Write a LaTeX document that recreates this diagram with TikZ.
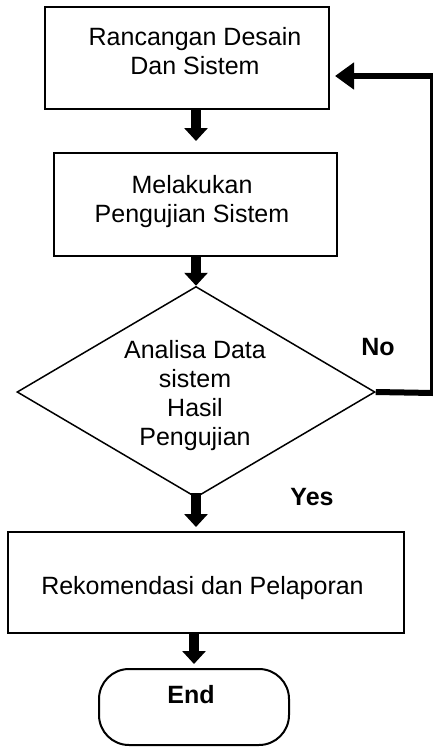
\documentclass[tikz,border=0pt]{standalone}
\usepackage{fontspec}
\setmainfont{Liberation Sans}
\usetikzlibrary{shapes.geometric,arrows.meta}

\tikzset{
  procbox/.style={draw, line width=2pt, inner sep=0pt},
  txt/.style={inner sep=0pt, align=center, font=\fontsize{25}{29}\selectfont},
  btxt/.style={inner sep=0pt, font=\fontsize{25}{29}\selectfont\bfseries},
  downarrow/.style={line width=10pt, -{Triangle[width=23pt,length=13pt]}},
  backline/.style={line width=6pt},
  backarrow/.style={line width=6pt, -{Triangle[width=26pt,length=19pt]}},
}

\begin{document}
\begin{tikzpicture}[x=1pt,y=-1pt]
\useasboundingbox (0,0) rectangle (433,747);

% process boxes
\node[procbox, minimum width=284pt, minimum height=102pt] (b1) at (187,58) {};
\node[txt] (b1t) at (195,51) {Rancangan Desain\\Dan Sistem};

\node[procbox, minimum width=283pt, minimum height=103pt] (b2) at (195.5,204.5) {};
\node[txt] (b2t) at (192,201.5) {Melakukan\\Pengujian Sistem};

% decision
\node[draw, diamond, line width=1.5pt, inner sep=0pt, aspect=1.7,
      minimum width=358pt, minimum height=211pt] (d) at (196,392) {};
\node[txt] (dt) at (195,396) {Analisa Data\\sistem\\Hasil\\Pengujian};

\node[procbox, minimum width=396pt, minimum height=101pt] (b3) at (206,582.5) {};
\node[txt, anchor=base] (b3t) at (202.5,594) {Rekomendasi dan Pelaporan};

% terminator
\node[draw, line width=2pt, rounded corners=30pt, minimum width=190pt,
      minimum height=76pt, inner sep=0pt] (end) at (194,707) {};
\node[btxt, anchor=base] (endt) at (191,703) {End};

% branch labels
\node[btxt, anchor=base] (no) at (378,355) {No};
\node[btxt, anchor=base] (yes) at (312,505) {Yes};

% main flow
\draw[downarrow, shorten >=11pt] (b1.south -| d.north) -- (b2.north -| d.north);
\draw[downarrow] (b2.south -| d.north) -- (d.north);
\draw[downarrow, shorten <=-5pt, shorten >=4pt] (d.south) -- (b3.north -| d.south);
\draw[downarrow, shorten >=4pt] (b3.south -| end.north) -- (end.north);

% loop back on "No"
\coordinate (fbB) at (431,393);
\coordinate (fbT) at (431,76);
\draw[backline] (d.east) -- ([xshift=2pt]fbB);
\draw[line width=3pt] ([yshift=3pt]fbB) -- ([yshift=-3pt]fbT);
\draw[backarrow, shorten >=5pt] ([xshift=2pt]fbT) -- (b1.east |- fbT);
\end{tikzpicture}
\end{document}
